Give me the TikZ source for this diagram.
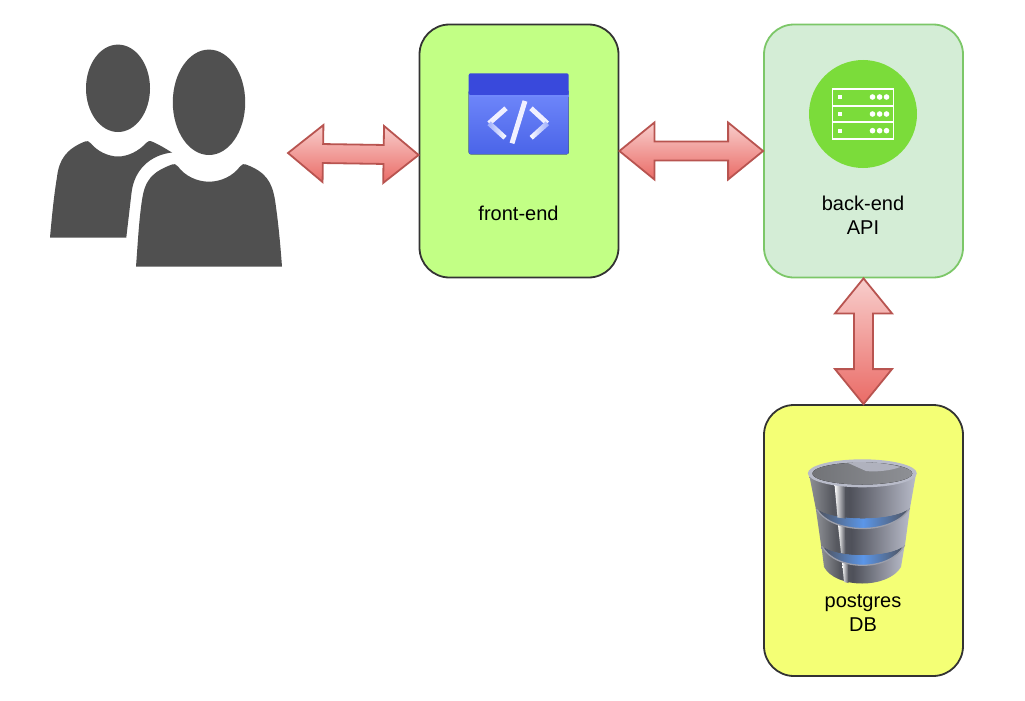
\documentclass[tikz,border=0pt]{standalone}
\usepackage{fontspec}
\setmainfont{Liberation Sans}
\usepackage{tikz}
\usetikzlibrary{calc}

\definecolor{frontfill}{HTML}{C2FF85}
\definecolor{backfill}{HTML}{D4EDD6}
\definecolor{backline}{HTML}{7CC768}
\definecolor{dbfill}{HTML}{F4FF75}
\definecolor{boxline}{HTML}{333333}
\definecolor{arrowline}{HTML}{B85450}
\definecolor{arrowtop}{HTML}{F8CECC}
\definecolor{arrowbot}{HTML}{EA6B66}
\definecolor{usergrey}{HTML}{505050}
\definecolor{codehead}{HTML}{3949DC}
\definecolor{codetop}{HTML}{7088FB}
\definecolor{codebot}{HTML}{4A64E8}
\definecolor{servergreen}{HTML}{7BDC3A}
\definecolor{metalA}{HTML}{8E9095}
\definecolor{metalB}{HTML}{56585F}
\definecolor{metalC}{HTML}{4F515A}
\definecolor{metalD}{HTML}{B8BBC9}
\definecolor{glowblue}{HTML}{5B96E8}

\pgfdeclarehorizontalshading{dbmetal}{100bp}{color(0bp)=(metalA);
  color(25bp)=(metalA); color(36bp)=(metalB);
  color(44bp)=(metalC); color(75bp)=(metalD); color(100bp)=(metalD)}

\tikzset{
  box/.style={draw, rounded corners=30pt, line width=1.8pt, inner sep=0pt},
  boxlabel/.style={align=center, inner sep=0pt, font=\fontsize{20}{24}\selectfont},
  fatarrow/.style={draw=arrowline, line width=1.8pt, line join=miter, top color=arrowtop, bottom color=arrowbot},
  dbtier/.style={shading=dbmetal},
  dbglow/.style={left color=metalC, right color=metalC, middle color=glowblue},
  dbrim/.style={draw=metalD!85!black, line width=1.3pt, line cap=round},
  dbstripe/.style={left color=white, right color=metalC},
}

% tip to tip, #1 and #2 are the ends
\newcommand{\fatarrowdraw}[2]{
  \path[fatarrow] (#1)
    -- ($(#1)!35pt!(#2)!28.5pt!90:(#2)$)
    -- ($(#1)!35pt!(#2)!9.5pt!90:(#2)$)
    -- ($(#2)!35pt!(#1)!9.5pt!-90:(#1)$)
    -- ($(#2)!35pt!(#1)!28.5pt!-90:(#1)$)
    -- (#2)
    -- ($(#2)!35pt!(#1)!28.5pt!90:(#1)$)
    -- ($(#2)!35pt!(#1)!9.5pt!90:(#1)$)
    -- ($(#1)!35pt!(#2)!9.5pt!-90:(#2)$)
    -- ($(#1)!35pt!(#2)!28.5pt!-90:(#2)$)
    -- cycle;
}

\begin{document}
\begin{tikzpicture}[x=1pt, y=-1pt]
 \useasboundingbox (0,0) rectangle (1025,701);

 \node[box, draw=boxline, fill=frontfill, minimum width=199pt, minimum height=253pt] (frontend) at (519,151) {};
 \node[box, draw=backline, fill=backfill, minimum width=199pt, minimum height=253pt] (backend) at (863.5,151) {};
 \node[box, draw=boxline, fill=dbfill, minimum width=199pt, minimum height=271pt] (database) at (863.5,540.5) {};

 \node[boxlabel] (frontlabel) at (518.5,213) {front-end};
 \node[boxlabel] (backlabel) at (863,215.5) {back-end\\API};
 \node[boxlabel] (dblabel) at (863,613.5) {postgres\\DB};

 \coordinate (usersport) at (288,153);
 \coordinate (frontin) at ($(frontend.west)+(0,4)$);
 \fatarrowdraw{usersport}{frontin}
 \fatarrowdraw{frontend.east}{backend.west}
 \fatarrowdraw{backend.south}{database.north}

 % users
 \begin{scope}[fill=usergrey]
   \fill (118,88.3) ellipse [x radius=32, y radius=43.7];
   \fill (209,102.3) ellipse [x radius=36.2, y radius=52.7];
   \fill (50,237.5) .. controls (52,215) and (54,195) .. (57,177)
     .. controls (59,160) and (66,149) .. (85,141.5)
     .. controls (87,140.5) and (89,141) .. (91,143.5)
     .. controls (97,151) and (108,156.5) .. (118,156.5)
     .. controls (128,156.5) and (139,151) .. (146,143)
     .. controls (148,140.5) and (150,140.5) .. (153,142)
     .. controls (160,145) and (166,149) .. (172,152.5)
     .. controls (150,155) and (134,170) .. (131.5,193)
     -- (126.3,237.5) -- cycle;
   \fill (136,266.7) .. controls (138,240) and (139,220) .. (142,200)
     .. controls (145,180) and (152,172) .. (172,164.5)
     .. controls (174,163.5) and (176,164) .. (178,166.5)
     .. controls (185,176) and (197,181.7) .. (209,181.7)
     .. controls (221,181.7) and (233,176) .. (240,166.5)
     .. controls (242,164) and (244,163.5) .. (246,164.5)
     .. controls (266,172) and (272,182) .. (275,200)
     .. controls (278,220) and (280,240) .. (282,266.7) -- cycle;
 \end{scope}

 % code window
 \fill[top color=codetop, bottom color=codebot, rounded corners=2pt] (468.7,90) rectangle (568.7,154.3);
 \fill[codehead, rounded corners=2pt] (468.7,73.3) rectangle (568.7,95) ;
 \fill[codetop] (468.7,95) rectangle (568.7,97);
 \draw[white!94!blue, line width=5pt] (506,108.3) -- (489,123.3);
 \draw[white!94!blue, line width=5pt] (531,108.3) -- (547.3,123.3);
 \draw[white!94!blue, line width=5pt] (525,101) -- (512,143.3);
 \shade[left color=codetop!70!white, right color=white] (487.4,125.2) -- (490.8,121.4) -- (506.6,136) -- (503.4,139.6) -- cycle;
 \shade[left color=white, right color=codetop!70!white] (549,125.2) -- (545.6,121.4) -- (529.6,136) -- (532.8,139.6) -- cycle;

 % server
 \fill[servergreen] (863,114) circle (54);
 \draw[white, line width=1.8pt] (832.5,89) rectangle (893.5,138.8);
 \draw[white, line width=1.8pt] (832.5,105.7) -- (893.5,105.7) (832.5,122.3) -- (893.5,122.3);
 \foreach \y in {97,114,130.7}
 {
   \fill[white] (838.2,\y-1.8) rectangle +(3.6,3.6);
   \foreach \x in {872.5,879.6,886.5}
     \fill[white] (\x,\y) circle (2.8);
 }

 % database drum
 \path[dbtier] (821,543) -- (824,567) .. controls (836,589) and (888,589) .. (901,567) -- (905,543) -- cycle;
 \path[dbstripe] (842,560) -- (848,560) -- (848.5,583) -- (844,582) -- cycle;
 \path[dbglow] (821,545) .. controls (835,558.3) and (890,558.3) .. (905,545) .. controls (890,571.7) and (835,571.7) .. cycle;
 \draw[dbrim] (822,546) .. controls (835,571.7) and (890,571.7) .. (904,546);
 \path[dbtier] (815.7,508) -- (821,545) .. controls (835,558.3) and (890,558.3) .. (905,545) -- (910,508) -- cycle;
 \path[dbstripe] (838,525) -- (845,526) -- (845.5,554) -- (841,553) -- cycle;
 \path[dbglow] (815.7,508) .. controls (832,521.7) and (893,521.7) .. (910,508) .. controls (893,535) and (832,535) .. cycle;
 \draw[dbrim] (816.7,509) .. controls (832,535) and (893,535) .. (909,509);
 \path[dbtier] (809,474) -- (815.7,508) .. controls (832,521.7) and (893,521.7) .. (910,508) -- (916,474) -- cycle;
 \path[dbstripe] (834.5,484) -- (845,484) -- (845.5,518.5) -- (837.5,517.5) -- cycle;
 \fill[metalD] (862.3,473.3) ellipse [x radius=54.5, y radius=14];
 \fill[left color=metalA!80!black, right color=metalA] (862.3,473.5) ellipse [x radius=50, y radius=11];
 \fill[metalD!80!metalA] (847,462.5) .. controls (865,461.5) and (885,462.5) .. (900,467) .. controls (890,471) and (875,472) .. (866,471) -- cycle;
\end{tikzpicture}
\end{document}
